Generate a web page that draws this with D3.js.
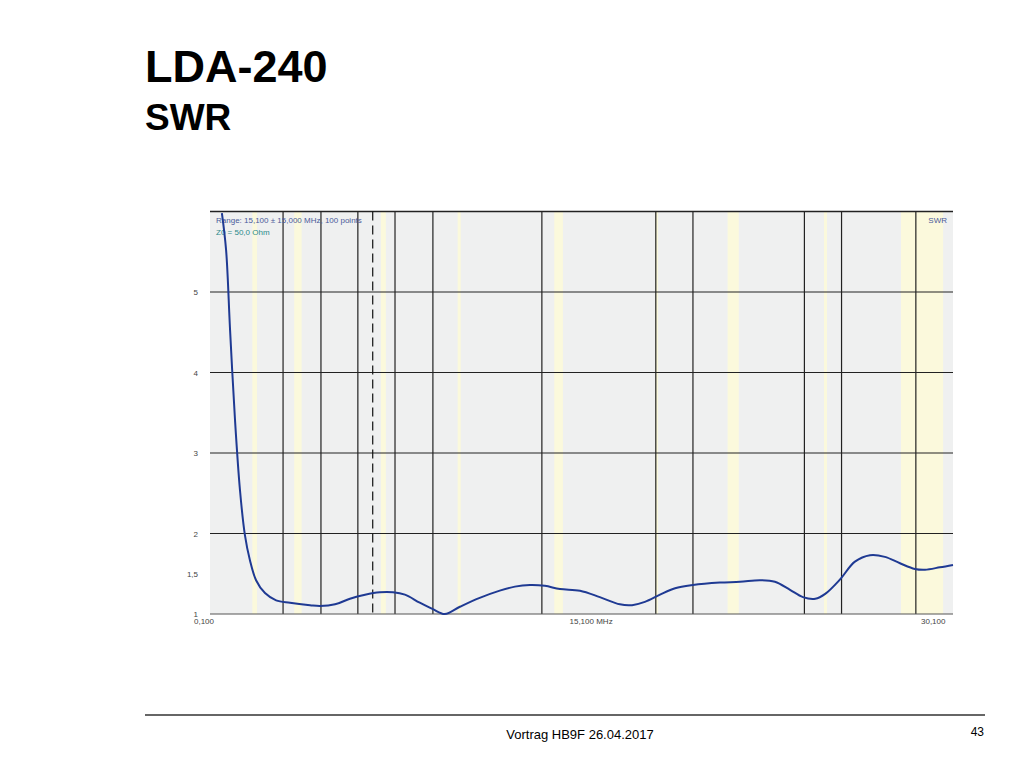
<!DOCTYPE html>
<html><head><meta charset="utf-8">
<script src="https://cdn.jsdelivr.net/npm/d3@7"></script>
<style>body{margin:0;background:#fff;font-family:"Liberation Sans",Arial,sans-serif}</style>
</head><body><svg id="c" width="1024" height="768"></svg>
<script>
const freq = [0.58,0.75,0.91,1.11,1.31,1.51,1.71,1.96,2.32,2.77,3.33,4.14,4.54,5.15,5.75,6.36,6.96,7.49,7.97,8.57,9.10,9.58,10.19,10.99,11.80,12.41,13.02,13.62,14.23,15.04,15.84,16.65,17.14,17.66,18.27,18.88,19.60,20.69,21.50,22.31,22.91,23.52,24.04,24.54,24.94,25.54,26.14,26.75,27.35,27.96,28.56,28.97,29.57,30.10];
const swr = [5.98,5.52,4.53,3.41,2.54,1.98,1.67,1.42,1.26,1.17,1.14,1.11,1.10,1.12,1.19,1.24,1.27,1.27,1.24,1.14,1.06,1.0,1.09,1.20,1.29,1.34,1.36,1.35,1.31,1.29,1.21,1.12,1.11,1.15,1.24,1.32,1.36,1.39,1.40,1.42,1.40,1.30,1.21,1.19,1.25,1.43,1.65,1.73,1.71,1.63,1.56,1.55,1.58,1.61];
const gridFreq = [3.05,4.58,6.07,7.57,9.1,13.5,18.1,19.6,24.1,25.6,28.6];
const markerFreq = 6.67;
const bands = [[1.81,2.0],[3.5,3.8],[7.0,7.2],[10.1,10.15],[14.0,14.35],[18.07,18.17],[21.0,21.45],[24.89,25.0],[28.0,29.7]];
const yTicks = [1,1.5,2,3,4,5];
const yGrid = [2,3,4,5,6];
const xTickLabels = [[0.1,"0,100"],[15.1,"15,100 MHz"],[30.1,"30,100"]];

const svg = d3.select("#c");
const x = d3.scaleLinear().domain([0.1,30.1]).range([210,953]);
const y = d3.scaleLinear().domain([1,6]).range([614,211.5]);

svg.append("text").attr("x",145).attr("y",82).attr("font-size",45).attr("font-weight","bold").text("LDA-240");
svg.append("text").attr("x",145).attr("y",130).attr("font-size",37).attr("font-weight","bold").text("SWR");

svg.append("rect").attr("x",x(0.1)).attr("y",y(6)).attr("width",x(30.1)-x(0.1)).attr("height",y(1)-y(6)).attr("fill","#eff0f0");
svg.selectAll(".band").data(bands).join("rect").attr("x",d=>x(d[0])).attr("y",y(6)).attr("width",d=>Math.max(3,x(d[1])-x(d[0]))).attr("height",y(1)-y(6)).attr("fill","#fbf9dc");
svg.selectAll(".vg").data(gridFreq).join("line").attr("x1",d=>x(d)).attr("x2",d=>x(d)).attr("y1",y(6)).attr("y2",y(1)).attr("stroke","#222").attr("stroke-width",1.2);
svg.selectAll(".hg").data(yGrid).join("line").attr("x1",x(0.1)).attr("x2",x(30.1)).attr("y1",d=>y(d)).attr("y2",d=>y(d)).attr("stroke","#222").attr("stroke-width",d=>d===6?1.6:1.2);
svg.append("line").attr("x1",x(markerFreq)).attr("x2",x(markerFreq)).attr("y1",y(6)).attr("y2",y(1)).attr("stroke","#111").attr("stroke-width",1.2).attr("stroke-dasharray","9,5");
svg.append("line").attr("x1",x(0.1)).attr("x2",x(30.1)).attr("y1",y(1)).attr("y2",y(1)).attr("stroke","#555");

svg.selectAll(".yl").data(yTicks).join("text").attr("x",198).attr("y",d=>y(d)+3).attr("text-anchor","end").attr("font-size",8).attr("fill","#444").text(d=>String(d).replace(".",","));
svg.selectAll(".xl").data(xTickLabels).join("text").attr("x",(d,i)=>x(d[0])+(i===0?-16:i===2?-32:-12)).attr("y",624).attr("font-size",8).attr("fill","#444").text(d=>d[1]);

svg.append("text").attr("x",216).attr("y",223).attr("font-size",8).attr("fill","#4a5a9a").text("Range: 15,100 ± 15,000 MHz, 100 points");
svg.append("text").attr("x",216).attr("y",235).attr("font-size",8).attr("fill","#2a8a8a").text("Z0 = 50,0 Ohm");
svg.append("text").attr("x",947).attr("y",223).attr("text-anchor","end").attr("font-size",8).attr("fill","#4a5a9a").text("SWR");

const pts = freq.map((f,i)=>[f,swr[i]]);
svg.append("path").datum(pts).attr("fill","none").attr("stroke","#1f3a93").attr("stroke-width",2)
  .attr("d",d3.line().x(d=>x(d[0])).y(d=>y(d[1])).curve(d3.curveCatmullRom.alpha(0.5)));

svg.append("line").attr("x1",145).attr("x2",985).attr("y1",715).attr("y2",715).attr("stroke","#333").attr("stroke-width",1.5);
svg.append("text").attr("x",580).attr("y",739).attr("text-anchor","middle").attr("font-size",13).text("Vortrag HB9F 26.04.2017");
svg.append("text").attr("x",984).attr("y",736).attr("text-anchor","end").attr("font-size",12).text("43");
</script></body></html>
